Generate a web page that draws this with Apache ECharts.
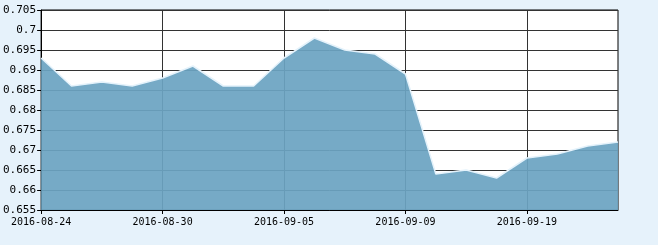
<!DOCTYPE html>
<html>
<head>
<meta charset="utf-8">
<script src="https://cdn.jsdelivr.net/npm/echarts@6/dist/echarts.min.js"></script>
<style>
html,body{margin:0;padding:0;background:#e6f2fb;}
#chart{width:658px;height:245px;}
</style>
</head>
<body>
<div id="chart"></div>
<script>
const categories = ['2016-08-24','2016-08-25','2016-08-26','2016-08-29','2016-08-30','2016-08-31','2016-09-01','2016-09-02','2016-09-05','2016-09-06','2016-09-07','2016-09-08','2016-09-09','2016-09-12','2016-09-13','2016-09-14','2016-09-19','2016-09-20','2016-09-21','2016-09-22'];
const values = [0.693,0.686,0.687,0.686,0.688,0.691,0.686,0.686,0.693,0.698,0.695,0.694,0.689,0.664,0.665,0.663,0.668,0.669,0.671,0.672];
const yTicks = [0.655,0.66,0.665,0.67,0.675,0.68,0.685,0.69,0.695,0.7,0.705];

const chart = echarts.init(document.getElementById('chart'), null, {renderer:'canvas'});
const font = '"DejaVu Sans Mono", monospace';
chart.setOption({
  animation:false,
  backgroundColor:'#e6f2fb',
  grid:{left:38,top:10,width:580,height:200,show:true,backgroundColor:'#ffffff',borderColor:'#000',borderWidth:1},
  xAxis:{
    type:'category',data:categories,boundaryGap:false,
    axisLine:{lineStyle:{color:'#000',width:1}},
    axisTick:{show:true,interval:3,length:4,lineStyle:{color:'#000'}},
    axisLabel:{interval:3,color:'#000',fontFamily:font,fontSize:10,margin:7},
    splitLine:{show:true,interval:3,lineStyle:{color:'#333',width:1}}
  },
  yAxis:{
    type:'value',min:yTicks[0],max:yTicks[yTicks.length-1],interval:0.005,
    axisLine:{show:true,lineStyle:{color:'#000',width:1}},
    axisTick:{show:true,length:4,lineStyle:{color:'#000'}},
    axisLabel:{color:'#000',fontFamily:font,fontSize:11,margin:5,
      formatter:v=>String(parseFloat(v.toFixed(3)))},
    splitLine:{show:true,lineStyle:{color:'#333',width:1}}
  },
  series:[{
    type:'line',data:values,symbol:'none',
    lineStyle:{color:'#e4f2fb',width:1.5},
    areaStyle:{color:'rgb(108,164,194)',opacity:0.93},
    z:2
  }]
});
</script>
</body>
</html>
